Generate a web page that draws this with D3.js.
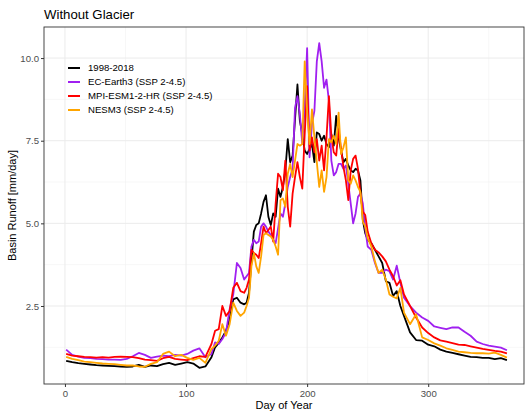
<!DOCTYPE html>
<html>
<head>
<meta charset="utf-8">
<script src="https://cdn.jsdelivr.net/npm/d3@7"></script>
<style>
  body { margin: 0; background: #fff; }
  text { font-family: "Liberation Sans", Arial, sans-serif; }
</style>
</head>
<body>
<div id="chart"></div>
<script>
// day of year
var days = [1,6,11,16,21,26,31,36,41,46,51,56,61,66,71,76,81,86,91,96,101,106,111,116,121,
  124,127,130,133,136,139,142,145,148,
  150,152,154,156,158,160,162,164,166,168,170,172,174,176,178,180,182,184,186,188,190,192,194,196,198,200,
  202,204,206,208,210,212,214,216,218,220,222,224,226,228,230,232,234,236,238,240,242,244,246,248,250,
  253,256,259,262,265,268,271,274,277,280,
  285,290,295,300,305,310,315,320,325,330,335,340,345,350,355,360,365];

var observed = [0.84,0.80,0.77,0.75,0.73,0.71,0.70,0.69,0.68,0.67,0.66,0.67,0.72,0.66,0.70,0.68,0.74,0.78,0.72,0.76,0.80,0.76,0.63,0.67,0.95,
  1.25,1.38,1.55,1.75,2.1,2.7,2.75,2.6,2.55,
  2.6,2.9,3.85,4.75,4.95,5.0,5.3,5.65,5.85,5.2,4.95,5.3,5.2,6.05,5.8,6.1,6.6,7.55,6.85,7.05,8.15,9.2,8.1,7.7,7.2,7.1,
  7.25,7.4,6.85,7.75,7.7,7.5,7.65,7.4,7.3,7.7,7.35,8.25,7.6,7.2,6.85,6.95,6.75,6.6,6.55,6.65,6.6,6.3,5.1,4.7,4.5,
  4.4,4.2,4.0,3.8,3.25,3.2,2.8,2.95,2.5,2.2,
  1.7,1.47,1.45,1.33,1.28,1.18,1.12,1.08,1.04,1.0,0.96,0.95,0.93,0.93,0.89,0.92,0.86];

var ecEarth3 = [1.18,1.02,0.97,0.93,0.92,0.90,0.89,0.88,0.88,0.87,0.90,0.98,1.08,1.02,0.93,0.97,1.0,0.98,1.02,1.0,1.05,1.15,1.22,0.95,1.05,
  1.4,1.35,1.5,1.7,2.4,2.85,3.8,3.65,3.3,
  3.4,3.5,4.3,4.5,4.4,4.45,4.9,5.0,4.9,4.75,4.65,4.5,4.4,4.85,5.3,5.2,5.6,6.1,6.4,6.65,8.5,8.85,8.3,7.4,8.5,10.3,
  7.0,8.0,8.4,9.9,10.45,9.9,9.1,9.35,8.7,6.9,6.45,6.55,6.8,6.8,6.65,6.75,6.2,5.6,5.0,5.3,5.8,5.9,5.6,4.85,4.3,
  4.2,3.8,3.5,3.5,3.6,3.55,3.3,3.72,3.2,2.75,
  2.5,2.3,2.15,2.05,1.88,1.84,1.8,1.85,1.85,1.72,1.6,1.42,1.35,1.3,1.27,1.24,1.16];

var mpiEsm = [1.05,1.0,0.98,0.96,0.95,0.94,0.95,0.94,0.96,0.97,0.96,0.95,0.92,0.88,0.86,0.84,0.92,0.96,0.90,0.88,0.86,0.92,0.98,0.96,1.35,
  1.75,1.8,2.5,2.2,2.35,3.05,3.2,2.95,2.9,
  3.05,3.3,4.2,4.1,4.05,3.95,4.4,4.9,4.7,4.8,4.9,4.45,5.6,6.5,6.4,6.0,6.9,5.5,4.9,5.9,6.4,6.85,6.4,6.05,7.7,9.15,
  7.2,7.6,7.15,7.55,6.9,7.35,6.6,7.6,8.85,7.65,7.15,7.05,7.85,7.25,6.7,6.3,5.7,6.6,6.95,7.05,6.65,5.9,5.35,5.25,4.75,
  4.4,4.2,4.12,4.0,3.85,3.6,3.4,3.12,3.28,2.85,
  2.5,2.15,1.85,1.68,1.55,1.46,1.42,1.38,1.33,1.32,1.28,1.24,1.2,1.17,1.14,1.12,1.07];

var nesm3 = [0.96,0.9,0.86,0.82,0.80,0.78,0.76,0.75,0.74,0.72,0.70,0.70,0.67,0.66,0.75,0.80,1.05,1.12,0.98,1.02,0.93,0.87,0.93,0.78,1.2,
  1.3,1.45,1.95,1.6,1.95,2.6,2.35,2.2,2.3,
  2.5,2.75,3.7,4.1,3.7,3.5,4.0,4.65,4.7,4.65,4.6,4.5,4.3,4.05,5.7,5.75,5.5,6.5,6.8,6.4,6.9,7.4,7.35,7.4,9.9,8.4,
  7.4,8.45,7.6,6.85,6.1,6.6,5.95,6.4,7.55,7.45,7.65,7.4,8.35,7.1,7.3,7.6,6.3,6.2,6.45,6.3,6.1,5.95,5.05,4.9,4.55,
  4.3,3.85,3.5,3.6,3.3,2.85,2.78,2.73,3.05,2.3,
  1.95,2.25,1.55,1.47,1.37,1.3,1.22,1.17,1.12,1.1,1.08,1.07,1.07,1.06,1.09,1.02,0.94];

var seriesNames = ["1998-2018", "EC-Earth3 (SSP 2-4.5)", "MPI-ESM1-2-HR (SSP 2-4.5)", "NESM3 (SSP 2-4.5)"];
var seriesColors = ["#000000", "#A020F0", "#FF0000", "#FFA500"];
var seriesValues = [observed, ecEarth3, mpiEsm, nesm3];
var xTicks = [0, 100, 200, 300];
var yTicks = [2.5, 5.0, 7.5, 10.0];

var width = 525, height = 415;
var panelLeft = 44, panelRight = 524, panelTop = 27, panelBottom = 384;

var svg = d3.select("#chart").append("svg")
  .attr("width", width)
  .attr("height", height);

var x = d3.scaleLinear().domain([-17.3, 379.1]).range([panelLeft, panelRight]);
var y = d3.scaleLinear().domain([0.14, 10.94]).range([panelBottom, panelTop]);

// grid
var grid = svg.append("g");
grid.selectAll(".minx").data([50, 150, 250, 350]).enter().append("line")
  .attr("x1", x).attr("x2", x).attr("y1", panelTop).attr("y2", panelBottom)
  .attr("stroke", "#f2f2f2").attr("stroke-width", 0.6);
grid.selectAll(".miny").data([1.25, 3.75, 6.25, 8.75]).enter().append("line")
  .attr("y1", y).attr("y2", y).attr("x1", panelLeft).attr("x2", panelRight)
  .attr("stroke", "#f2f2f2").attr("stroke-width", 0.6);
grid.selectAll(".majx").data(xTicks).enter().append("line")
  .attr("x1", x).attr("x2", x).attr("y1", panelTop).attr("y2", panelBottom)
  .attr("stroke", "#ebebeb").attr("stroke-width", 1);
grid.selectAll(".majy").data(yTicks).enter().append("line")
  .attr("y1", y).attr("y2", y).attr("x1", panelLeft).attr("x2", panelRight)
  .attr("stroke", "#ebebeb").attr("stroke-width", 1);

// lines
var line = d3.line()
  .x(function(d, i) { return x(days[i]); })
  .y(function(d) { return y(d); });

svg.append("g").selectAll("path")
  .data(seriesValues)
  .enter().append("path")
  .attr("d", line)
  .attr("fill", "none")
  .attr("stroke", function(d, i) { return seriesColors[i]; })
  .attr("stroke-width", 1.8)
  .attr("stroke-linejoin", "round");

// border
svg.append("rect")
  .attr("x", panelLeft).attr("y", panelTop)
  .attr("width", panelRight - panelLeft).attr("height", panelBottom - panelTop)
  .attr("fill", "none").attr("stroke", "#333").attr("stroke-width", 0.9);

// axes
var xAxis = svg.append("g")
  .attr("transform", "translate(0," + panelBottom + ")")
  .call(d3.axisBottom(x).tickValues(xTicks).tickSize(3).tickPadding(3).tickFormat(d3.format("d")));
var yAxis = svg.append("g")
  .attr("transform", "translate(" + panelLeft + ",0)")
  .call(d3.axisLeft(y).tickValues(yTicks).tickSize(3).tickPadding(2).tickFormat(d3.format(".1f")));
[xAxis, yAxis].forEach(function(a) {
  a.select(".domain").remove();
  a.selectAll(".tick line").attr("stroke", "#333");
  a.selectAll(".tick text").attr("fill", "#4d4d4d").style("font-size", "9.6px")
    .style("font-family", "'Liberation Sans', Arial, sans-serif");
});

// titles
svg.append("text")
  .attr("x", panelLeft).attr("y", 19)
  .style("font-size", "13.2px")
  .text("Without Glacier");

svg.append("text")
  .attr("x", (panelLeft + panelRight) / 2).attr("y", 409)
  .attr("text-anchor", "middle")
  .style("font-size", "11px")
  .text("Day of Year");

svg.append("text")
  .attr("transform", "translate(16," + (panelTop + panelBottom) / 2 + ") rotate(-90)")
  .attr("text-anchor", "middle")
  .style("font-size", "11px")
  .text("Basin Runoff [mm/day]");

// legend
var legend = svg.append("g").selectAll("g")
  .data(seriesNames)
  .enter().append("g")
  .attr("transform", function(d, i) { return "translate(68," + (68 + i * 14) + ")"; });
legend.append("line")
  .attr("x1", 0).attr("x2", 12).attr("y1", 0).attr("y2", 0)
  .attr("stroke", function(d, i) { return seriesColors[i]; })
  .attr("stroke-width", 2);
legend.append("text")
  .attr("x", 20).attr("y", 0).attr("dy", "0.35em")
  .style("font-size", "9.6px")
  .text(function(d) { return d; });
</script>
</body>
</html>
